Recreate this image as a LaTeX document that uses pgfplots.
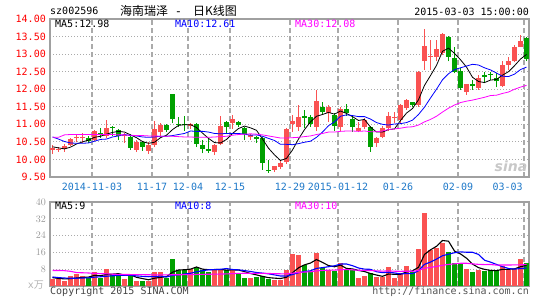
\documentclass[border=0pt]{standalone}
\usepackage{pgfplots}
\pgfplotsset{compat=1.18}
\usepackage{pgfplotstable}
\usepackage{fontspec}
\newfontfamily\mono{DejaVu Sans Mono}
\newfontfamily\cjk{Noto Sans CJK SC}
\newfontfamily\sinafont{DejaVu Sans}
\definecolor{kred}{RGB}{250,82,82}
\definecolor{kgreen}{RGB}{0,160,0}
\definecolor{framec}{RGB}{160,160,160}
\definecolor{gridc}{RGB}{170,170,170}
\definecolor{datec}{RGB}{30,120,200}
\definecolor{ma10c}{RGB}{0,0,255}
\definecolor{ma30c}{RGB}{255,0,255}
\definecolor{volgray}{RGB}{150,150,150}
\newcommand{\tf}{\mono\fontsize{10pt}{12pt}\selectfont}

\pgfplotstableread{
i  O     H     L     C     V    up  m5     m10    m30    v5    v10   v30
0  10.28 10.40 10.15 10.33 3.2  1   10.36  10.64  10.63  4.0   4.3   7.4
1  10.28 10.35 10.22 10.31 3.2  1   10.33  10.58  10.63  3.6   4.0   7.4
2  10.30 10.45 10.22 10.38 2.5  1   10.30  10.51  10.70  3.4   3.8   7.3
3  10.40 10.60 10.38 10.58 4.6  1   10.35  10.47  10.71  3.5   3.7   7.0
4  10.60 10.72 10.50 10.62 5.5  1   10.44  10.46  10.71  3.80  3.7   6.4
5  10.60 10.75 10.48 10.62 4.6  1   10.50  10.46  10.71  4.08  3.8   6.3
6  10.62 10.66 10.48 10.53 4.0  0   10.55  10.47  10.71  4.24  3.9   6.2
7  10.55 10.85 10.52 10.82 6.5  1   10.63  10.52  10.71  5.04  4.2   6.0
8  10.76 10.90 10.62 10.72 4.0  0   10.66  10.57  10.71  4.92  4.4   5.9
9  10.68 11.12 10.62 10.90 8.3  1   10.72  10.58  10.71  5.48  4.64  5.8
10 10.93 10.95 10.68 10.90 5.5  0   10.77  10.64  10.71  5.66  4.87  5.6
11 10.85 10.88 10.55 10.66 5.1  0   10.80  10.67  10.70  5.88  5.06  5.55
12 10.66 10.75 10.48 10.70 3.2  1   10.78  10.71  10.70  5.22  5.13  5.5
13 10.63 10.72 10.28 10.33 4.6  0   10.70  10.68  10.69  5.34  5.13  5.45
14 10.28 10.55 10.22 10.50 2.3  1   10.62  10.67  10.68  4.14  4.81  5.4
15 10.50 10.52 10.25 10.35 2.5  0   10.51  10.64  10.68  3.54  4.60  5.4
16 10.25 10.50 10.16 10.42 2.3  1   10.46  10.63  10.67  2.98  4.43  5.35
17 10.40 11.10 10.35 10.87 6.9  1   10.49  10.64  10.67  3.72  4.47  5.3
18 10.78 11.05 10.68 10.98 6.6  1   10.62  10.66  10.66  4.12  4.73  5.3
19 10.98 11.00 10.78 10.85 4.0  0   10.69  10.66  10.66  4.46  4.30  5.3
20 11.86 11.87 11.03 11.14 12.9 0   10.85  10.68  10.66  6.54  5.04  5.35
21 11.02 11.20 10.92 10.99 7.8  0   10.97  10.71  10.65  7.64  5.31  5.35
22 11.02 11.25 10.82 10.99 7.4  0   10.99  10.74  10.64  7.74  5.73  5.4
23 10.95 11.05 10.88 11.00 8.0  1   10.99  10.81  10.64  8.02  6.07  5.45
24 11.02 11.05 10.35 10.45 9.2  0   10.91  10.80  10.63  9.06  6.76  5.5
25 10.40 10.55 10.17 10.30 7.7  0   10.75  10.80  10.63  8.02  7.28  5.55
26 10.30 10.60 10.18 10.25 6.6  0   10.60  10.78  10.63  7.78  7.71  5.6
27 10.22 10.45 10.12 10.40 7.7  1   10.48  10.74  10.64  7.84  7.79  5.65
28 10.45 11.25 10.40 10.96 8.2  1   10.47  10.73  10.65  7.88  7.95  5.7
29 11.06 11.10 10.73 10.92 7.7  0   10.57  10.74  10.66  7.58  8.32  5.75
30 11.04 11.27 10.88 11.15 8.2  1   10.74  10.74  10.69  7.68  7.85  5.92
31 11.06 11.10 10.92 10.99 6.2  0   10.88  10.74  10.71  7.60  7.69  6.02
32 10.90 10.93 10.55 10.73 4.0  0   10.95  10.72  10.72  6.86  7.35  6.07
33 10.64 10.72 10.56 10.70 3.7  1   10.90  10.69  10.73  5.96  6.92  6.04
34 10.64 10.68 10.48 10.58 4.3  0   10.83  10.70  10.72  5.28  6.43  6.00
35 10.62 10.65 9.70  9.90  4.8  0   10.58  10.66  10.70  4.60  6.14  6.01
36 9.70  9.98  9.62  9.67  3.1  0   10.32  10.60  10.67  3.98  5.79  5.98
37 9.70  9.82  9.64  9.80  2.8  1   10.13  10.54  10.64  3.74  5.30  5.85
38 9.78  9.97  9.74  9.90  2.8  1   9.97   10.43  10.61  3.56  4.76  5.81
39 9.92  10.90 9.88  10.87 7.4  1   10.03  10.43  10.61  4.18  4.73  5.78
40 11.00 11.27 10.79 11.10 15.4 1   10.27  10.42  10.62  6.30  5.45  6.11
41 10.93 11.55 10.81 11.22 14.8 1   10.58  10.45  10.63  8.64  6.31  6.44
42 11.25 11.41 10.89 11.18 10.0 0   10.85  10.49  10.65  10.08 6.91  6.66
43 11.22 11.27 10.93 11.00 7.1  0   11.07  10.52  10.67  10.94 7.25  6.75
44 10.93 11.98 10.81 11.67 15.7 1   11.23  10.63  10.71  12.60 8.39  7.19
45 11.48 11.65 11.27 11.35 8.5  0   11.28  10.78  10.74  11.22 8.76  7.39
46 11.31 11.55 11.08 11.48 7.4  1   11.34  10.96  10.78  9.74  9.19  7.56
47 11.28 11.32 10.81 10.94 7.1  0   11.29  11.07  10.78  9.16  9.62  7.57
48 10.92 11.50 10.82 11.45 11.1 1   11.38  11.23  10.80  9.96  10.45 7.72
49 11.45 11.58 11.25 11.32 7.7  0   11.31  11.27  10.81  8.36  10.48 7.84
50 11.16 11.27 10.79 10.92 7.4  0   11.22  11.25  10.81  8.14  9.68  7.66
51 10.82 11.08 10.77 10.90 3.7  1   11.11  11.22  10.80  7.40  8.57  7.52
52 10.93 11.17 10.88 11.12 4.6  1   11.14  11.22  10.81  6.90  8.03  7.43
53 10.93 10.96 10.22 10.36 6.2  0   10.92  11.15  10.79  5.92  7.94  7.37
54 10.46 10.64 10.36 10.62 4.2  1   10.78  11.05  10.79  5.22  6.79  7.20
55 10.65 10.94 10.60 10.89 4.3  1   10.78  11.00  10.81  4.60  6.37  7.09
56 10.89 11.34 10.81 11.25 9.2  1   10.85  10.98  10.85  5.70  6.55  7.18
57 11.18 11.36 11.03 11.22 4.0  1   10.87  11.01  10.87  5.58  6.24  7.05
58 11.13 11.58 11.03 11.55 6.2  1   11.11  11.02  10.89  5.58  5.75  6.99
59 11.46 11.73 11.41 11.70 9.7  1   11.32  11.05  10.92  6.68  5.95  7.05
60 11.63 11.65 11.48 11.55 6.9  0   11.45  11.12  10.93  7.20  5.90  7.01
61 11.55 12.52 11.50 12.50 17.8 1   11.70  11.28  10.98  8.92  7.31  7.40
62 12.80 13.72 12.55 13.23 34.6 1   12.11  11.49  11.07  15.04 10.31 8.42
63 12.92 13.40 12.55 12.96 17.1 1   12.39  11.75  11.14  17.22 11.40 8.86
64 12.93 13.40 12.79 13.15 18.2 1   12.68  12.00  11.23  18.92 12.80 9.33
65 13.03 13.60 12.98 13.57 20.6 1   13.08  12.27  11.35  21.66 14.43 9.85
66 13.50 13.52 12.79 12.93 16.2 0   13.17  12.44  11.46  21.34 15.13 10.29
67 12.90 13.20 12.45 12.50 11.1 0   13.02  12.56  11.55  16.64 15.84 10.57
68 12.53 12.60 11.98 12.03 10.3 0   12.84  12.61  11.62  15.28 16.25 10.82
69 11.93 12.16 11.84 12.14 8.0  1   12.63  12.66  11.66  13.24 16.08 10.84
70 12.15 12.27 11.98 12.08 6.6  0   12.34  12.71  11.69  10.44 16.05 10.54
71 12.03 12.41 11.98 12.33 7.7  1   12.22  12.69  11.73  8.74  15.04 10.31
72 12.41 12.50 12.17 12.36 7.1  0   12.19  12.61  11.77  7.94  12.29 10.21
73 12.44 12.50 12.27 12.41 7.8  0   12.26  12.55  11.82  7.44  11.36 10.23
74 12.33 12.45 12.05 12.22 7.4  0   12.28  12.46  11.83  7.32  10.28 9.96
75 12.08 12.80 12.05 12.70 9.7  1   12.40  12.37  11.88  7.94  9.19  10.00
76 12.70 12.93 12.55 12.80 7.7  1   12.50  12.36  11.92  7.94  8.34  10.01
77 12.79 13.27 12.77 13.20 8.2  1   12.67  12.43  12.00  8.16  8.05  10.04
78 13.20 13.55 13.20 13.38 12.9 1   12.86  12.56  12.06  9.18  8.31  10.10
79 13.45 13.48 12.80 12.85 10.8 0   12.99  12.63  12.11  9.86  8.59  10.21
}\kdata

\pgfplotsset{
  kbase/.style={
    scale only axis, width=479pt, enlargelimits=false,
    xmin=-0.4167, xmax=79.4167,
    axis line style={draw=framec, line width=1.3pt},
    major tick length=0pt, tick style={draw=none},
    xtick={6.583,16.583,22.583,29.583,39.583,47.583,57.583,67.583,78.583},
    xmajorgrids, ymajorgrids,
    x grid style={draw=gridc, line width=1.1pt, dash pattern=on 5pt off 3pt},
    y grid style={draw=gridc, line width=0.9pt, dash pattern=on 1pt off 2pt},
  },
  wick/.style={draw=none, forget plot, error bars/.cd, y dir=plus, y explicit, error mark=none,
    error bar style={draw=#1, line width=1pt}, /pgfplots/.cd},
  body/.style={draw=none, forget plot, error bars/.cd, y dir=plus, y explicit, error mark=none,
    error bar style={draw=#1, line width=4.2pt}, /pgfplots/.cd},
}

\begin{document}
\begin{tikzpicture}
\path[use as bounding box] (0pt,0pt) rectangle (545pt,300pt);

% ---------- price panel ----------
\begin{axis}[kbase, at={(50pt,123pt)}, anchor=south west, height=158pt,
  ymin=9.5, ymax=14,
  ytick={9.5,10,10.5,11,11.5,12,12.5,13,13.5,14},
  yticklabels={9.50,10.00,10.50,11.00,11.50,12.00,12.50,13.00,13.50,14.00},
  yticklabel style={font=\tf, text=red, inner sep=0pt, xshift=-4pt},
  xticklabels={2014-11-03,11-17,12-04,12-15,12-29,2015-01-12,01-26,02-09,{}},
  xticklabel style={font=\tf, text=datec, inner sep=0pt, yshift=-6pt},
]
\addplot[restrict expr to domain={\thisrow{up}}{0.5:1.5}, wick=kred]
  table[x=i, y=L, y error expr={\thisrow{H}-\thisrow{L}}] {\kdata};
\addplot[restrict expr to domain={\thisrow{up}}{-0.5:0.5}, wick=kgreen]
  table[x=i, y=L, y error expr={\thisrow{H}-\thisrow{L}}] {\kdata};
\addplot[restrict expr to domain={\thisrow{up}}{0.5:1.5}, body=kred]
  table[x=i, y expr={min(\thisrow{O},\thisrow{C})}, y error expr={max(abs(\thisrow{C}-\thisrow{O}),0.03)}] {\kdata};
\addplot[restrict expr to domain={\thisrow{up}}{-0.5:0.5}, body=kgreen]
  table[x=i, y expr={min(\thisrow{O},\thisrow{C})}, y error expr={max(abs(\thisrow{C}-\thisrow{O}),0.03)}] {\kdata};
\addplot[black, line width=0.8pt] table[x=i, y=m5] {\kdata};
\addplot[ma10c, line width=0.8pt] table[x=i, y=m10] {\kdata};
\addplot[ma30c, line width=0.8pt] table[x=i, y=m30] {\kdata};
\end{axis}

% ---------- volume panel ----------
\begin{axis}[kbase, at={(50pt,14pt)}, anchor=south west, height=84pt,
  ymin=0, ymax=40, ytick={8,16,24,32,40},
  yticklabel style={font=\tf, text=volgray, inner sep=0pt, xshift=-4pt},
  xticklabel=\empty,
]
\addplot[ycomb, kred, line width=4.2pt, restrict expr to domain={\thisrow{up}}{0.5:1.5}] table[x=i, y=V] {\kdata};
\addplot[ycomb, kgreen, line width=4.2pt, restrict expr to domain={\thisrow{up}}{-0.5:0.5}] table[x=i, y=V] {\kdata};
\addplot[black, line width=1.1pt] table[x=i, y=v5] {\kdata};
\addplot[ma10c, line width=1.1pt] table[x=i, y=v10] {\kdata};
\addplot[ma30c, line width=1.1pt] table[x=i, y=v30] {\kdata};
\end{axis}

% ---------- texts ----------
\node[anchor=west, inner sep=0pt, font=\tf] at (50pt,289pt) {sz002596};
\node[anchor=west, inner sep=0pt, font=\cjk\fontsize{12pt}{14pt}\selectfont] at (120pt,289pt) {海南瑞泽};
\node[anchor=base, inner sep=0pt, font=\mono\fontsize{12pt}{14pt}\selectfont] at (178.5pt,284.4pt) {-};
\node[anchor=west, inner sep=0pt, font=\cjk\fontsize{12pt}{14pt}\selectfont] at (193pt,289pt) {日K线图};
\node[anchor=east, inner sep=0pt, font=\tf] at (529pt,288.5pt) {2015-03-03 15:00:00};

\node[anchor=west, inner sep=0pt, font=\tf] at (55pt,276pt) {MA5:12.98};
\node[anchor=west, inner sep=0pt, font=\tf, text=ma10c] at (175pt,276pt) {MA10:12.61};
\node[anchor=west, inner sep=0pt, font=\tf, text=ma30c] at (295pt,276pt) {MA30:12.08};

\node[anchor=west, inner sep=0pt, font=\tf] at (55pt,94pt) {MA5:9};
\node[anchor=west, inner sep=0pt, font=\tf, text=ma10c] at (175pt,94pt) {MA10:8};
\node[anchor=west, inner sep=0pt, font=\tf, text=ma30c] at (295pt,94pt) {MA30:10};

\node[anchor=north, inner sep=0pt, font=\tf, text=datec] at (507.7pt,117pt) {03-03};

\node[anchor=east, inner sep=0pt, text={rgb,255:red,180;green,180;blue,180}] at (44pt,14.5pt)
  {{\tf x}{\cjk\fontsize{10pt}{12pt}\selectfont 万}};
\node[anchor=west, inner sep=0pt, font=\tf, text={rgb,255:red,68;green,68;blue,68}] at (50pt,8pt) {Copyright 2015 SINA.COM};
\node[anchor=east, inner sep=0pt, font=\tf, text={rgb,255:red,85;green,85;blue,85}] at (529pt,8pt) {http://finance.sina.com.cn};

\node[inner sep=0pt, text={rgb,255:red,200;green,200;blue,200}, font=\sinafont\fontsize{14pt}{16pt}\selectfont\bfseries\itshape] at (511pt,134pt) {sina};
\end{tikzpicture}
\end{document}
